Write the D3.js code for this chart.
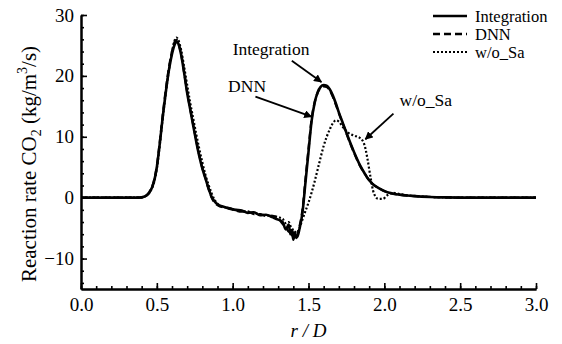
<!DOCTYPE html>
<html>
<head>
<meta charset="utf-8">
<script src="https://cdn.jsdelivr.net/npm/d3@7"></script>
<style>
  body { margin: 0; background: #fff; }
  svg text { font-family: "Liberation Serif", "Times New Roman", Times, "DejaVu Serif", serif !important; fill: #000; }
</style>
</head>
<body>
<script>
const width = 562;
const height = 344;
const margin = { top: 15, right: 26, bottom: 55, left: 81 };

const chartWidth = width - margin.left - margin.right;
const chartHeight = height - margin.top - margin.bottom;

const serif = '"Liberation Serif", "Times New Roman", Times, "DejaVu Serif", serif';

// r / D sample positions shared by the three curves
const rPos = [
  0, 0.2, 0.38, 0.42, 0.45, 0.48, 0.5, 0.52, 0.54, 0.56,
  0.58, 0.6, 0.62, 0.63, 0.64, 0.66, 0.68, 0.7, 0.72, 0.74,
  0.76, 0.78, 0.8, 0.82, 0.84, 0.86, 0.88, 0.9, 0.94, 0.98,
  1.02, 1.06, 1.1, 1.14, 1.18, 1.22, 1.26, 1.3, 1.33, 1.35,
  1.37, 1.38, 1.39, 1.4, 1.41, 1.42, 1.43, 1.44, 1.46, 1.48,
  1.5, 1.52, 1.54, 1.56, 1.58, 1.6, 1.62, 1.64, 1.66, 1.68,
  1.7, 1.73, 1.76, 1.8, 1.84, 1.87, 1.89, 1.91, 1.93, 1.96,
  1.99, 2.02, 2.05, 2.1, 2.15, 2.2, 2.3, 2.4, 2.6, 3.0
];

const integration = [
  0, 0, 0, 0.2, 0.8, 2.5, 5, 9, 13.5, 17.5,
  21, 23.6, 25.3, 25.6, 25.4, 23.5, 20.5, 17.2, 14.5, 11.8,
  9.2, 6.8, 4.8, 3.2, 1.6, 0.2, -0.6, -1.1, -1.5, -1.8,
  -2.0, -2.1, -2.5, -2.4, -2.9, -2.8, -3.2, -3.6, -4.0, -5.2,
  -4.4, -6.0, -5.3, -6.9, -5.8, -6.6, -6.2, -5.2, -2.5, 2.5,
  7.5, 12.5, 15.5, 17.3, 18.2, 18.5, 18.4, 17.8, 16.8, 15.5,
  14, 12, 10, 7.5, 5.3, 4, 3.2, 2.6, 2.1, 1.6,
  1.2, 0.9, 0.7, 0.5, 0.35, 0.25, 0.12, 0.05, 0, 0
];

const dnn = [
  0, 0, 0, 0.2, 0.9, 2.7, 5.2, 9.3, 13.8, 17.9,
  21.4, 24, 25.7, 25.9, 25.5, 23.6, 20.6, 17.4, 14.6, 12,
  9.4, 7, 4.9, 3.3, 1.5, 0.1, -0.8, -1.2, -1.6, -1.7,
  -2.1, -2.3, -2.3, -2.7, -2.7, -3.0, -3.0, -3.4, -4.3, -4.8,
  -5.6, -4.9, -6.2, -5.5, -6.5, -6.8, -5.8, -4.8, -2.0, 3.0,
  8, 12.8, 15.6, 17.2, 18.0, 18.3, 18.2, 17.6, 16.6, 15.3,
  13.9, 11.9, 9.9, 7.4, 5.2, 4, 3.2, 2.6, 2.1, 1.6,
  1.2, 0.9, 0.7, 0.5, 0.35, 0.25, 0.12, 0.05, 0, 0
];

const woSa = [
  0, 0, 0, 0.2, 0.8, 2.4, 4.8, 8.8, 13.3, 17.4,
  21, 24, 26, 26.3, 26.0, 24.3, 21.5, 18.5, 15.6, 13,
  10.4, 8, 5.8, 3.8, 2.2, 0.8, -0.3, -1.0, -1.5, -1.8,
  -2.0, -2.2, -2.3, -2.5, -2.7, -2.9, -3.0, -3.2, -3.5, -4.2,
  -4.0, -4.6, -5.0, -5.3, -5.5, -5.8, -5.6, -5.0, -3.6, -2.2,
  -0.8, 0.8, 2.6, 4.6, 6.6, 8.5, 10.0, 11.2, 12.2, 12.7,
  12.5, 11.5, 10.7, 10.2, 9.8, 8.6, 6.2, 3.2, 0.8, -0.2,
  -0.2, 0.4, 0.8, 0.6, 0.4, 0.3, 0.12, 0.05, 0, 0
];

const seriesNames = ["Integration", "DNN", "w/o_Sa"];
const xTicks = [0, 0.5, 1.0, 1.5, 2.0, 2.5, 3.0];
const yTicks = [-10, 0, 10, 20, 30];

const styles = {
  "Integration": { width: 2.6, dash: null },
  "DNN": { width: 2.3, dash: "7,4" },
  "w/o_Sa": { width: 2.2, dash: "2,2" }
};

const series = [
  { name: "Integration", values: integration },
  { name: "DNN", values: dnn },
  { name: "w/o_Sa", values: woSa }
];

const svg = d3.select("body")
  .append("svg")
  .attr("width", width)
  .attr("height", height)
  .attr("font-family", serif);

const g = svg.append("g")
  .attr("transform", `translate(${margin.left}, ${margin.top})`);

const x = d3.scaleLinear().domain([0, 3]).range([0, chartWidth]);
const y = d3.scaleLinear().domain([-15, 30]).range([chartHeight, 0]);

// minor ticks (inward)
const xAxisMinor = d3.axisBottom(x)
  .tickValues(d3.range(0, 3.001, 0.1))
  .tickSizeInner(-3).tickSizeOuter(0).tickFormat("");
const xAxis = d3.axisBottom(x)
  .tickValues(xTicks)
  .tickSizeInner(-6).tickSizeOuter(0).tickPadding(9)
  .tickFormat(d3.format(".1f"));
const yAxisMinor = d3.axisLeft(y)
  .tickValues(d3.range(-14, 30.001, 2))
  .tickSizeInner(-3).tickSizeOuter(0).tickFormat("");
const yAxis = d3.axisLeft(y)
  .tickValues(yTicks)
  .tickSizeInner(-6).tickSizeOuter(0).tickPadding(7);

function styleAxis(sel) {
  sel.attr("font-family", serif);
  sel.select(".domain").attr("stroke-width", 2);
  sel.selectAll(".tick line").attr("stroke-width", 1.6);
  sel.selectAll("text").style("font-size", "19px");
}

g.append("g").attr("transform", `translate(0, ${chartHeight})`).call(xAxisMinor).call(styleAxis);
g.append("g").attr("transform", `translate(0, ${chartHeight})`).call(xAxis).call(styleAxis);
g.append("g").call(yAxisMinor).call(styleAxis);
g.append("g").call(yAxis).call(styleAxis);

// axis titles
g.append("text")
  .attr("x", x(1.5))
  .attr("y", chartHeight + 48)
  .attr("text-anchor", "middle")
  .style("font-size", "19px")
  .style("font-style", "italic")
  .text("r / D");

const yLabel = g.append("text")
  .attr("transform", `translate(${-45}, ${chartHeight / 2 + 12}) rotate(-90)`)
  .attr("text-anchor", "middle")
  .style("font-size", "21px");
yLabel.append("tspan").text("Reaction rate CO");
yLabel.append("tspan").attr("dy", 5).style("font-size", "14px").text("2");
yLabel.append("tspan").attr("dy", -5).text(" (kg/m");
yLabel.append("tspan").attr("dy", -9).style("font-size", "14px").text("3");
yLabel.append("tspan").attr("dy", 9).text("/s)");

// curves
const line = d3.line()
  .x((d, i) => x(rPos[i]))
  .y(d => y(d))
  .curve(d3.curveMonotoneX);

g.selectAll("path.series")
  .data(series)
  .enter()
  .append("path")
  .attr("class", "series")
  .attr("fill", "none")
  .attr("stroke", "#000")
  .attr("stroke-width", d => styles[d.name].width)
  .attr("stroke-dasharray", d => styles[d.name].dash)
  .attr("stroke-linejoin", "round")
  .attr("d", d => line(d.values));

// legend
const legend = svg.append("g").attr("transform", "translate(433, 16)");
seriesNames.forEach((name, i) => {
  const row = legend.append("g").attr("transform", `translate(0, ${i * 18})`);
  row.append("line")
    .attr("x1", 0).attr("x2", 34).attr("y1", 0).attr("y2", 0)
    .attr("stroke", "#000")
    .attr("stroke-width", styles[name].width)
    .attr("stroke-dasharray", styles[name].dash);
  row.append("text")
    .attr("x", 42).attr("y", 5.5)
    .style("font-size", "16.5px")
    .text(name);
});

// annotations (in data coordinates)
const annotations = [
  { label: "Integration", tx: 1.253, ty: 23.5, anchor: "middle", from: [1.39, 22.5], to: [1.585, 19.0] },
  { label: "DNN", tx: 1.095, ty: 17.4, anchor: "middle", from: [1.15, 16.6], to: [1.52, 13.3] },
  { label: "w/o_Sa", tx: 2.10, ty: 15.0, anchor: "start", from: [2.06, 13.8], to: [1.875, 9.6] }
];

svg.append("defs").append("marker")
  .attr("id", "arrow")
  .attr("viewBox", "0 0 10 10")
  .attr("refX", 9).attr("refY", 5)
  .attr("markerWidth", 4.5).attr("markerHeight", 4.5)
  .attr("orient", "auto")
  .append("path")
  .attr("d", "M0,0 L10,5 L0,10 z")
  .attr("fill", "#000");

annotations.forEach(a => {
  g.append("text")
    .attr("x", x(a.tx)).attr("y", y(a.ty))
    .attr("text-anchor", a.anchor)
    .style("font-size", "17.5px")
    .text(a.label);
  g.append("line")
    .attr("x1", x(a.from[0])).attr("y1", y(a.from[1]))
    .attr("x2", x(a.to[0])).attr("y2", y(a.to[1]))
    .attr("stroke", "#000")
    .attr("stroke-width", 1.8)
    .attr("marker-end", "url(#arrow)");
});
</script>
</body>
</html>
